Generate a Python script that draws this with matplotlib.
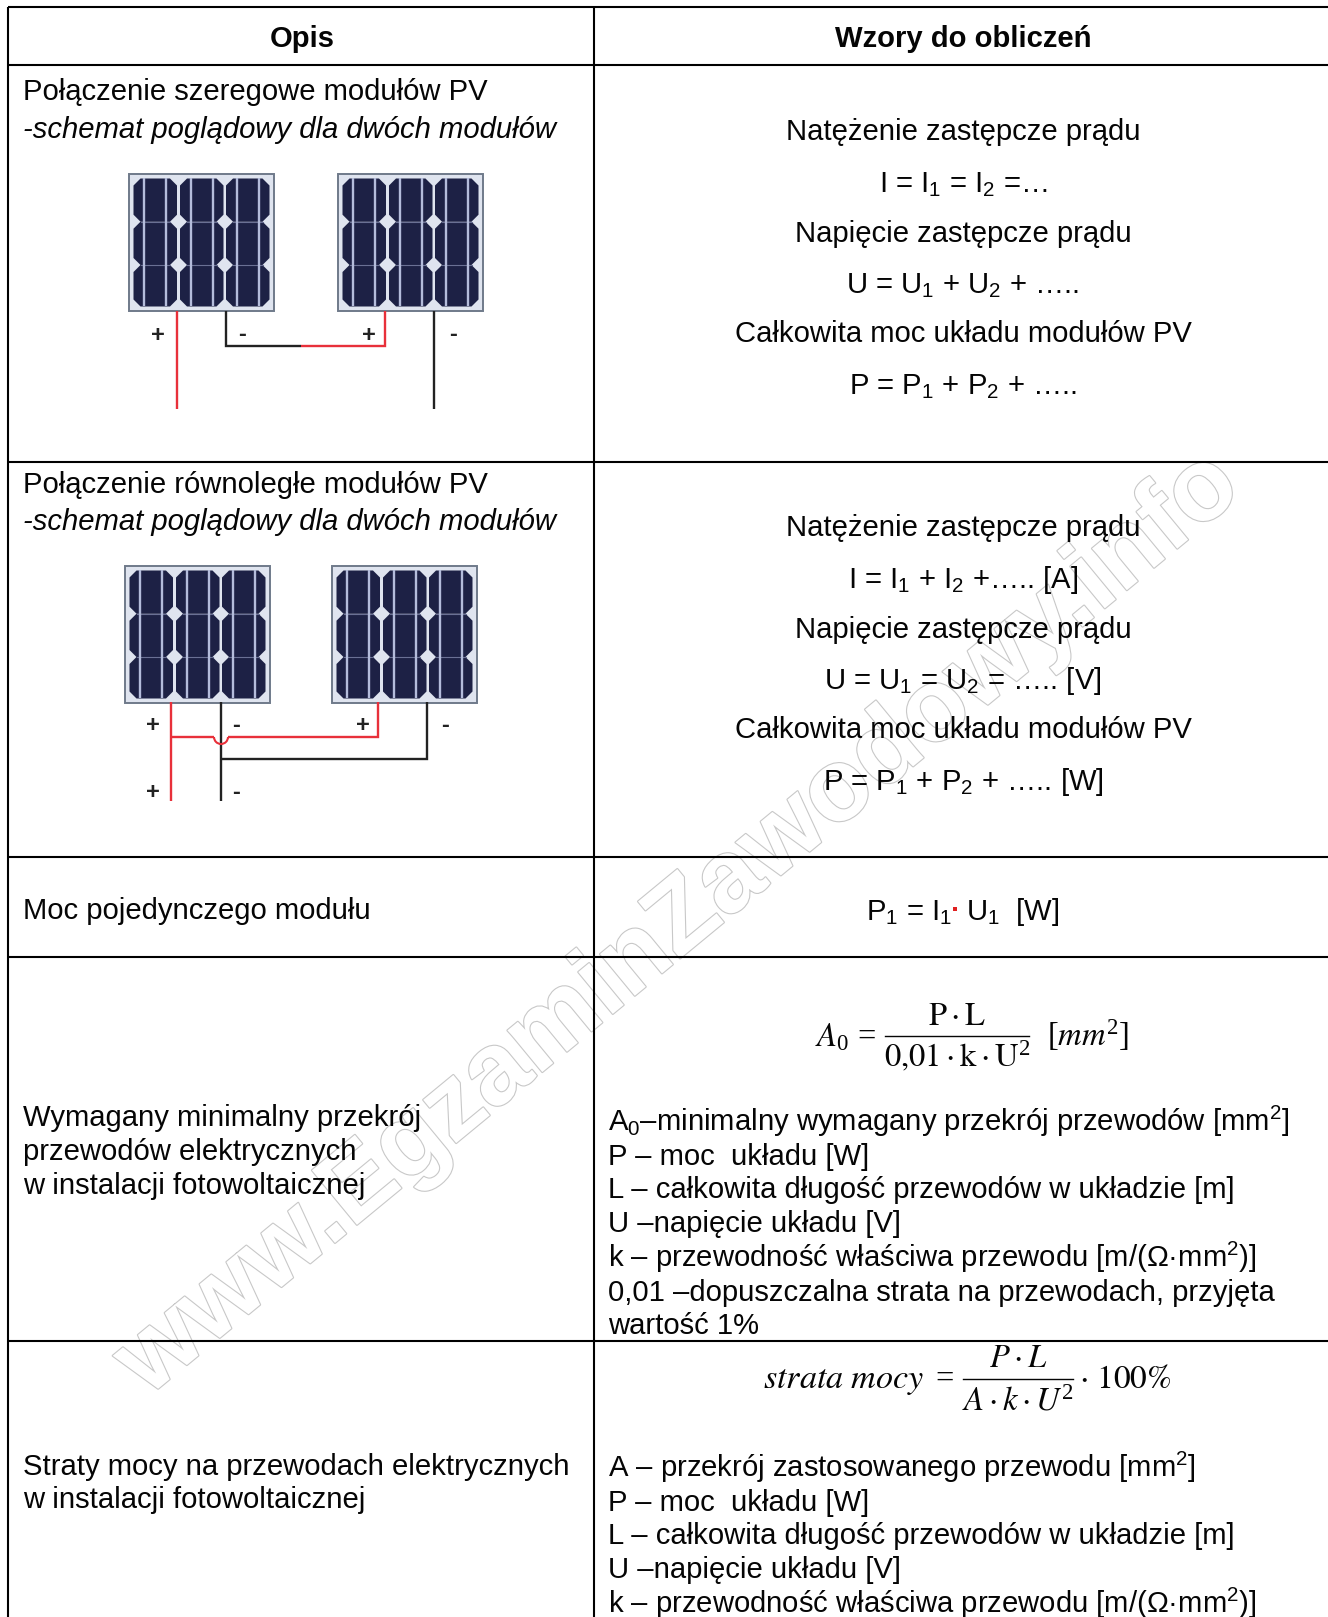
import matplotlib
matplotlib.use('Agg')
import matplotlib.pyplot as plt
import matplotlib.patheffects as pe
from matplotlib.patches import Rectangle, Polygon, Arc

plt.rcParams['font.family'] = ['Liberation Sans', 'DejaVu Sans']
plt.rcParams['mathtext.fontset'] = 'custom'
plt.rcParams['mathtext.rm'] = 'Liberation Sans'
plt.rcParams['mathtext.it'] = 'Liberation Sans:italic'
plt.rcParams['mathtext.default'] = 'regular'

FS = 21.05
INK = '#050505'
RED = '#e8303a'
WIRE = '#222222'

naglowki = ['Opis', 'Wzory do obliczeń']
wiersze_y = [7, 65, 462, 857, 957, 1341]
kol_x = [8, 594]

opis_1 = ['Połączenie szeregowe modułów PV', '-schemat poglądowy dla dwóch modułów']
opis_2 = ['Połączenie równoległe modułów PV', '-schemat poglądowy dla dwóch modułów']
opis_3 = 'Moc pojedynczego modułu'
opis_4 = ['Wymagany minimalny przekrój', 'przewodów elektrycznych', 'w instalacji fotowoltaicznej']
opis_5 = ['Straty mocy na przewodach elektrycznych', 'w instalacji fotowoltaicznej']

wzory_1 = ['Natężenie zastępcze prądu', 'I = I$_1$ = I$_2$ =…', 'Napięcie zastępcze prądu',
           'U = U$_1$ + U$_2$ + …..', 'Całkowita moc układu modułów PV', 'P = P$_1$ + P$_2$ + …..']
wzory_1_y = [140, 192, 242, 293, 342, 394]
wzory_2 = ['Natężenie zastępcze prądu', 'I = I$_1$ + I$_2$ +….. [A]', 'Napięcie zastępcze prądu',
           'U = U$_1$ = U$_2$ = ….. [V]', 'Całkowita moc układu modułów PV', 'P = P$_1$ + P$_2$ + ….. [W]']
wzory_2_y = [536, 588, 638, 689, 738, 790]

lista_4 = ['A$_0$–minimalny wymagany przekrój przewodów [mm$^2$]', 'P – moc  układu [W]',
           'L – całkowita długość przewodów w układzie [m]', 'U –napięcie układu [V]',
           'k – przewodność właściwa przewodu [m/(Ω·mm$^2$)]',
           '0,01 –dopuszczalna strata na przewodach, przyjęta', 'wartość 1%']
lista_4_y = [1131, 1165, 1198, 1232, 1267, 1301, 1334]
lista_5 = ['A – przekrój zastosowanego przewodu [mm$^2$]', 'P – moc  układu [W]',
           'L – całkowita długość przewodów w układzie [m]', 'U –napięcie układu [V]',
           'k – przewodność właściwa przewodu [m/(Ω·mm$^2$)]']
lista_5_y = [1477, 1511, 1544, 1578, 1613]

znak_wodny = 'www.EgzaminZawodowy.info'

fig = plt.figure(figsize=(13.28, 16.17), dpi=100, facecolor='white')
ax = fig.add_axes([0, 0, 1, 1])
ax.set_xlim(0, 1328)
ax.set_ylim(1617, 0)
ax.axis('off')


def napis(x, y, s, ha='left', **kw):
    kw.setdefault('fontsize', FS)
    kw.setdefault('color', INK)
    kw.setdefault('zorder', 5)
    return ax.text(x, y, s, ha=ha, va='baseline', **kw)


def wzor(x, y, s, ha='left', fs=23.5):
    return ax.text(x, y, s, ha=ha, va='baseline', fontsize=fs, color=INK, zorder=5,
                   math_fontfamily='stix', family='Liberation Serif')


def modul(x0, y0):
    w = 145
    h = 137
    ax.add_patch(Rectangle((x0, y0), w, h, fc='#dfe4ef', ec='#6f7a8a', lw=1.4, zorder=3))
    k_x = [4.5, 51, 97]
    k_w = 43.5
    r_y = [4.5, 47.7, 91]
    r_h = [43.2, 43.3, 41.5]
    c = 7
    for kx in k_x:
        for ry, rh in zip(r_y, r_h):
            a = x0 + kx
            b = y0 + ry
            ax.add_patch(Polygon([(a + c, b), (a + k_w - c, b), (a + k_w, b + c), (a + k_w, b + rh - c),
                                  (a + k_w - c, b + rh), (a + c, b + rh), (a, b + rh - c), (a, b + c)],
                                 closed=True, fc='#1d2145', ec='none', zorder=4))
        for off in [10.5, 32.5]:
            ax.plot([x0 + kx + off] * 2, [y0 + 4.5, y0 + 132.5], color='#b4bcdb', lw=1.7, zorder=4.2,
                    solid_capstyle='butt')
        for ry in r_y[1:]:
            ax.plot([x0 + kx + c, x0 + kx + k_w - c], [y0 + ry] * 2, color='#6a7094', lw=0.8, zorder=4.1)


def przewod(xs, ys, kolor):
    ax.plot(xs, ys, color=kolor, lw=1.7, zorder=4, solid_joinstyle='miter', solid_capstyle='butt')


def znak(x, y, s):
    ax.text(x, y, s, ha='center', va='center', fontsize=17, fontweight='bold', color='#222222', zorder=5)


# znak wodny
ax.text(679, 925, znak_wodny, rotation=39.5, rotation_mode='anchor', ha='center', va='center',
        fontsize=74, fontweight='bold', color='white', zorder=1,
        path_effects=[pe.Stroke(linewidth=1.6, foreground='#c8c8c8'), pe.Normal()])

# linie tabeli
for y in wiersze_y:
    ax.plot([kol_x[0], 1328], [y, y], color='black', lw=1.5, zorder=2, solid_capstyle='butt')
for x in kol_x:
    ax.plot([x, x], [wiersze_y[0], 1617], color='black', lw=1.5, zorder=2, solid_capstyle='butt')

# naglowek
napis(302, 47, naglowki[0], ha='center', fontweight='bold')
napis(963, 47, naglowki[1], ha='center', fontweight='bold')

# lewa kolumna
napis(23, 100, opis_1[0])
napis(23, 138, opis_1[1], style='italic')
napis(23, 493, opis_2[0])
napis(23, 530, opis_2[1], style='italic')
napis(23, 919, opis_3)
for s, y in zip(opis_4, [1126, 1160, 1194]):
    napis(23, y, s)
for s, y in zip(opis_5, [1475, 1508]):
    napis(23, y, s)

# prawa kolumna
for s, y in zip(wzory_1, wzory_1_y):
    napis(963, y, s, ha='center')
for s, y in zip(wzory_2, wzory_2_y):
    napis(963, y, s, ha='center')

napis(866, 920, 'P$_1$ = I$_1$')
ax.plot([955], [909], marker='s', ms=2.2, color='#e02020', mew=0, zorder=5)
napis(966, 920, 'U$_1$  [W]')

# wzor na przekroj
wzor(815, 1046, r'$\mathit{A}_0$')
wzor(876, 1046, '=', ha='right')
wzor(957, 1025, r'$\mathrm{P}\cdot\mathrm{L}$', ha='center')
ax.plot([885, 1029], [1036, 1036], color=INK, lw=1.0, zorder=5)
wzor(957, 1066, r'$\mathrm{0{,}01}\cdot\mathrm{k}\cdot\mathrm{U}^2$', ha='center')
wzor(1047, 1046, r'$[\mathit{mm}^2]$')
for s, y in zip(lista_4, lista_4_y):
    napis(608, y, s)

# wzor na strate
wzor(763, 1388, r'$\mathit{strata\ mocy}$', fs=24.6)
wzor(954, 1388, '=', ha='right')
wzor(1018, 1367, r'$\mathit{P}\cdot\mathit{L}$', ha='center')
ax.plot([963, 1073], [1379, 1379], color=INK, lw=1.0, zorder=5)
wzor(1018, 1410, r'$\mathit{A}\cdot\mathit{k}\cdot\mathit{U}^2$', ha='center')
wzor(1079, 1388, r'$\cdot\ \mathrm{100\%}$', fs=24)
for s, y in zip(lista_5, lista_5_y):
    napis(608, y, s)

# schemat szeregowy
modul(129, 174)
modul(338, 174)
przewod([177, 177], [311, 409], RED)
przewod([226, 226, 301], [311, 346, 346], WIRE)
przewod([301, 385, 385], [346, 346, 311], RED)
przewod([434, 434], [311, 409], WIRE)
for x, y, s in [(158, 335, '+'), (242, 335, '-'), (369, 335, '+'), (453, 335, '-')]:
    znak(x, y, s)

# schemat rownolegly
modul(125, 566)
modul(332, 566)
przewod([171, 171], [702, 801], RED)
przewod([221, 221], [702, 801], WIRE)
przewod([171, 214], [737, 737], RED)
ax.add_patch(Arc((221, 737), 14, 14, theta1=0, theta2=180, color=RED, lw=1.5, zorder=4.5))
przewod([228, 378, 378], [737, 737, 702], RED)
przewod([221, 427, 427], [759, 759, 702], WIRE)
for x, y, s in [(153, 725, '+'), (236, 725, '-'), (363, 725, '+'), (445, 725, '-'),
                (153, 792, '+'), (236, 792, '-')]:
    znak(x, y, s)

plt.savefig('out.png', dpi=100)
